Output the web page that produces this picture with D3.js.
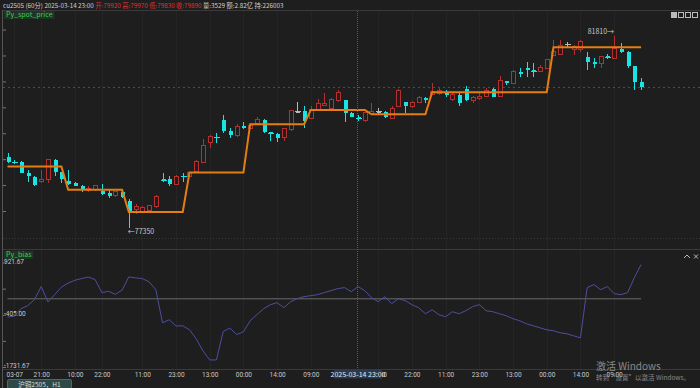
<!DOCTYPE html>
<html>
<head>
<meta charset="utf-8">
<script src="https://cdn.jsdelivr.net/npm/d3@7/dist/d3.min.js"></script>
<style>
  body { margin: 0; background: #1e1e1e; overflow: hidden; }
  svg { display: block; font-family: "Noto Sans CJK SC", "DejaVu Sans", sans-serif; }
</style>
</head>
<body>
<div id="chart"></div>
<script>
// 60 min bars of cu2505, [open, high, low, close]
const candles = [
  [79000, 79090, 78850, 78890], [78890, 78920, 78840, 78870], [78880, 78900, 78630, 78640], [78630, 78700, 78430, 78550],
  [78530, 78550, 78330, 78350], [78430, 78700, 78390, 78490], [78490, 78960, 78390, 78950], [78930, 78960, 78560, 78660],
  [78650, 78660, 78410, 78490], [78450, 78690, 78350, 78380], [78390, 78430, 78320, 78330], [78330, 78350, 78190, 78260],
  [78220, 78330, 78200, 78260], [78240, 78340, 78220, 78330], [78220, 78370, 78120, 78140], [78160, 78240, 78050, 78100],
  [78110, 78220, 78080, 78200], [78180, 78240, 78050, 78070], [77990, 78020, 77350, 77750], [77780, 77920, 77680, 77850],
  [77750, 77870, 77730, 77830], [77760, 77900, 77740, 77880], [77850, 78110, 77830, 78080], [78480, 78630, 78420, 78460],
  [78490, 78550, 78320, 78380], [78370, 78580, 78350, 78550], [78560, 78630, 78420, 78540], [78560, 78650, 78540, 78630],
  [78660, 78930, 78630, 78890], [78870, 79410, 78860, 79260], [79330, 79510, 79200, 79470], [79470, 79550, 79320, 79450],
  [79860, 79970, 79560, 79600], [79600, 79670, 79450, 79510], [79500, 79760, 79460, 79700], [79710, 79820, 79640, 79670],
  [79670, 79760, 79640, 79720], [79770, 79920, 79740, 79860], [79860, 79880, 79550, 79590], [79570, 79570, 79360, 79550],
  [79530, 79550, 79340, 79450], [79460, 79680, 79360, 79650], [79630, 80080, 79610, 80070], [80050, 80280, 80040, 80050],
  [80070, 80170, 79670, 79840], [79900, 80180, 79870, 80110], [80110, 80340, 80090, 80230], [80200, 80480, 80170, 80240],
  [80130, 80360, 80070, 80320], [80300, 80540, 80280, 80500], [80320, 80330, 79820, 80030], [80030, 80050, 79920, 79930],
  [79920, 79970, 79830, 79890], [79840, 80050, 79820, 80030], [80010, 80240, 80000, 80050], [80050, 80130, 79970, 80050],
  [80050, 80070, 79910, 79920], [79900, 80180, 79870, 80130], [80170, 80570, 80150, 80540], [80270, 80280, 80010, 80170],
  [80170, 80300, 80130, 80270], [80270, 80420, 80250, 80380], [80370, 80380, 80260, 80320], [80450, 80710, 80440, 80510],
  [80460, 80590, 80440, 80540], [80510, 80540, 80380, 80440], [80340, 80480, 80300, 80440], [80440, 80480, 80170, 80240],
  [80570, 80640, 80300, 80320], [80300, 80410, 80240, 80380], [80360, 80480, 80320, 80410], [80400, 80600, 80380, 80550],
  [80570, 80590, 80380, 80400], [80400, 80880, 80380, 80760], [80760, 80770, 80670, 80710], [80710, 81020, 80690, 80980],
  [80970, 81070, 80860, 80920], [81070, 81190, 80860, 81010], [81010, 81180, 80850, 80990], [80990, 81130, 80980, 81070],
  [81050, 81270, 81030, 81250], [81360, 81710, 81350, 81440], [81380, 81710, 81360, 81590], [81610, 81670, 81550, 81610],
  [81480, 81590, 81360, 81550], [81480, 81710, 81430, 81670], [81310, 81420, 81010, 81190], [81190, 81280, 81060, 81150],
  [81170, 81340, 81050, 81320], [81330, 81380, 81260, 81310], [81290, 81810, 81270, 81500], [81500, 81630, 81400, 81440],
  [81440, 81450, 81050, 81110], [81110, 81110, 80550, 80740], [80740, 80840, 80550, 80610]
];

// Py_spot_price: one level per trading day, starting at bar index
const spotDayStart = [0, 9, 18, 27, 36, 45, 54, 63, 81];
const spotLevel = [78780, 78240, 77730, 78640, 79760, 80090, 79990, 80500, 81540];

// Py_bias, one value per bar
const bias = [
  -463, -443, -251, -175, -22, 310, -80, 106, 297, 399, 470, 514, 552, 488, 157, 190,
  113, 220, 557, 531, 514, 430, 233, -608, -532, -692, -685, -787, -1016, -1322, -1552, -1552,
  -830, -744, -907, -838, -557, -404, -251, -149, -98, -226, -73, 4, 55, 80, 106, 157,
  208, 259, 284, 182, 310, 208, 29, -73, 55, -124, 4, -48, -149, -226, -379, -277,
  -404, -455, -328, -379, -302, -200, -149, -302, -328, -379, -430, -506, -557, -634, -685, -736,
  -787, -812, -863, -889, -940, -991, 284, 361, 233, 310, 131, 106, 157, 540, 870
];

const xTickIndex = [1, 5, 10, 14, 20, 25, 30, 35, 40, 45, 55, 60, 65, 70, 75, 80, 85, 90];
const xTickLabel = ['03-07', '21:00', '10:00', '22:00', '11:00', '23:00', '13:00', '00:00', '14:00',
  '09:00', '10:30', '22:00', '11:00', '23:00', '13:00', '00:00', '14:00', '09:00'];
const priceTicks = [77750, 78350, 78950, 79550, 80150, 80750, 81350, 81950];
const biasTicks = [921.67, 258.33, -405.00, -1068.33, -1731.67];
const biasTickLabel = ['921.67', '', '-405.00', '', '-1731.67'];

const hoverIndex = 52;
const hoverLabel = '2025-03-14  23:00';
const headLeft = 'cu2505 (60分) 2025-03-14 23:00';
const headOhlc = '开:79920 高:79970 低:79830 收:79890';
const headRight = '量:3529 额:2.82亿 持:226003';
const lowMark = 77350, highMark = 81810;

const W = 700, H = 388;
const cyan = '#19e3e3', red = '#b3302f', bg = '#1e1e1e';

const svg = d3.select('#chart').append('svg')
  .attr('width', W).attr('height', H);
svg.append('rect').attr('width', W).attr('height', H).attr('fill', bg);

const x = d3.scaleLinear().domain([0, candles.length - 1]).range([7.5, 641.1]);
const y = d3.scaleLinear().domain([lowMark, highMark]).range([228.3, 35.6]);
const yb = d3.scaleLinear().domain([-1731.67, 921.67]).range([367, 262.5]);

// faint vertical grid at the time ticks
svg.append('g').selectAll('line').data(xTickIndex).join('line')
  .attr('x1', d => Math.round(x(d)) + 0.5).attr('x2', d => Math.round(x(d)) + 0.5)
  .attr('y1', 11).attr('y2', 370)
  .attr('stroke', '#252525');

// frame lines
const frame = svg.append('g').attr('stroke', '#3a3a3a').attr('shape-rendering', 'crispEdges');
frame.append('line').attr('x1', 3).attr('x2', W).attr('y1', 10.5).attr('y2', 10.5);
frame.append('line').attr('x1', 3).attr('x2', W).attr('y1', 238.5).attr('y2', 238.5).attr('stroke-dasharray', '1,2');
frame.append('line').attr('x1', 3).attr('x2', W).attr('y1', 249.5).attr('y2', 249.5);
frame.append('line').attr('x1', 3).attr('x2', W).attr('y1', 369.5).attr('y2', 369.5);
frame.append('line').attr('x1', 2.5).attr('x2', 2.5).attr('y1', 10).attr('y2', 388).attr('stroke', '#555');

// left axes (ticks only in price pane)
const yAxis = d3.axisRight(y).tickValues(priceTicks).tickSize(3).tickFormat('');
svg.append('g').attr('transform', 'translate(3,0)').call(yAxis)
  .call(g => g.select('.domain').remove())
  .call(g => g.selectAll('line').attr('stroke', '#777'));

const ybAxis = d3.axisRight(yb).tickValues(biasTicks).tickSize(3)
  .tickFormat((d, i) => biasTickLabel[i]);
svg.append('g').attr('transform', 'translate(3,0)').call(ybAxis)
  .call(g => g.select('.domain').remove())
  .call(g => g.selectAll('line').attr('stroke', '#777'))
  .call(g => g.selectAll('text').attr('x', 1).attr('dy', '0.1em').attr('fill', '#c8c8c8')
    .style('font-size', '6.5px').style('font-family', 'Roboto, "DejaVu Sans", sans-serif'));

// last price line
const last = candles[candles.length - 1][3];
svg.append('line').attr('x1', 3).attr('x2', W)
  .attr('y1', y(last)).attr('y2', y(last))
  .attr('stroke', '#1f6b45').attr('stroke-dasharray', '2,3');

// candles
const cg = svg.append('g').attr('shape-rendering', 'crispEdges');
const bar = cg.selectAll('g').data(candles).join('g')
  .attr('transform', (d, i) => `translate(${Math.round(x(i)) + 0.5},0)`);
const colorOf = d => d[3] > d[0] ? red : (d[3] < d[0] ? cyan : '#bbbbbb');
bar.append('line')
  .attr('y1', d => y(d[1])).attr('y2', d => y(d[2]))
  .attr('stroke', colorOf);
bar.append('rect')
  .attr('x', -2).attr('width', 4)
  .attr('y', d => y(Math.max(d[0], d[3])))
  .attr('height', d => Math.max(1, Math.abs(y(d[0]) - y(d[3]))))
  .attr('fill', d => d[3] > d[0] ? bg : colorOf(d))
  .attr('stroke', d => d[3] > d[0] ? red : 'none');
bar.filter(d => Math.abs(y(d[0]) - y(d[3])) < 1.5).append('line')
  .attr('x1', -3).attr('x2', 3)
  .attr('y1', d => y(d[3])).attr('y2', d => y(d[3]))
  .attr('stroke', colorOf);

// Py_spot_price step line
const spot = candles.map((d, i) => spotLevel[d3.bisectRight(spotDayStart, i) - 1]);
svg.append('path').datum(spot)
  .attr('fill', 'none').attr('stroke', '#e47d12').attr('stroke-width', 2)
  .attr('d', d3.line().x((d, i) => x(i)).y(d => y(d)));

// high / low marks
const iLow = candles.findIndex(d => d[2] === lowMark);
const iHigh = candles.findIndex(d => d[1] === highMark);
svg.append('text').attr('x', x(iLow) - 1).attr('y', y(lowMark) + 6)
  .attr('fill', '#c8c8c8').style('font-size', '7px').text('←' + lowMark);
svg.append('text').attr('x', x(iHigh)).attr('y', y(highMark) - 2).attr('text-anchor', 'end')
  .attr('fill', '#c8c8c8').style('font-size', '7px').text(highMark + '→');

// bias pane
svg.append('line').attr('x1', x(0)).attr('x2', x(candles.length - 1))
  .attr('y1', yb(0)).attr('y2', yb(0)).attr('stroke', '#6a6a6a');
svg.append('path').datum(bias)
  .attr('fill', 'none').attr('stroke', '#4e4ea0').attr('stroke-width', 1)
  .attr('d', d3.line().x((d, i) => x(i)).y(d => yb(d)));

// crosshair
svg.append('line').attr('x1', Math.round(x(hoverIndex)) - 0.5).attr('x2', Math.round(x(hoverIndex)) - 0.5)
  .attr('y1', 11).attr('y2', 369)
  .attr('stroke', '#5a5a5a').attr('stroke-dasharray', '1,1');

// time axis
const xAxis = d3.axisBottom(x).tickValues(xTickIndex).tickSize(0)
  .tickFormat((d, i) => xTickLabel[i]);
svg.append('g').attr('transform', 'translate(0,369)').call(xAxis)
  .call(g => g.select('.domain').remove())
  .call(g => g.selectAll('text').attr('fill', '#c8c8c8')
    .style('font-size', '6.5px').style('font-family', 'Roboto, "DejaVu Sans", sans-serif'));

// hover time label
const hx = x(hoverIndex);
svg.append('rect').attr('x', hx - 24).attr('y', 369.5).attr('width', 48).attr('height', 9)
  .attr('fill', '#2b3850');
svg.append('text').attr('x', hx).attr('y', 376.5).attr('text-anchor', 'middle')
  .attr('fill', '#e8e8e8').style('font-size', '7px').text(hoverLabel);

// header
const head = svg.append('text').attr('x', 3).attr('y', 8).style('font-size', '6.3px');
head.append('tspan').attr('fill', '#d0d0d0').text(headLeft + ' ');
head.append('tspan').attr('fill', '#e03030').text(headOhlc + ' ');
head.append('tspan').attr('fill', '#d0d0d0').text(headRight);

// series labels
[['Py_spot_price', 11], ['Py_bias', 251]].forEach(([t, ty]) => {
  const lg = svg.append('g').attr('transform', `translate(4,${ty})`);
  const txt = lg.append('text').attr('x', 2).attr('y', 6).attr('fill', '#3ecf4a')
    .style('font-size', '7px').text(t);
  const w = txt.node().getComputedTextLength();
  lg.insert('rect', 'text').attr('width', w + 4).attr('height', 8).attr('fill', '#1f3326');
});

// toolbar icons
const icons = svg.append('g').attr('fill', 'none').attr('stroke', '#bbb');
[674, 681, 688, 695].forEach((ix, k) => {
  icons.append('rect').attr('x', ix - 2.5).attr('y', 12.5).attr('width', 5).attr('height', 5)
    .attr('fill', k === 0 ? '#bbb' : 'none');
});
icons.append('path').attr('d', 'M684,258 L687,255 L690,258');
icons.append('path').attr('d', 'M694,254.5 L698,258.5 M698,254.5 L694,258.5');

// bottom tab
svg.append('rect').attr('x', 7.5).attr('y', 379.5).attr('width', 64).attr('height', 9)
  .attr('fill', '#2e4a48').attr('stroke', '#4a6a66').attr('rx', 1.5);
svg.append('text').attr('x', 39.5).attr('y', 386.5).attr('text-anchor', 'middle')
  .attr('fill', '#dcdcdc').style('font-size', '6.5px').text('沪铜2505，H1');

// system watermark
svg.append('text').attr('x', 596).attr('y', 370).attr('fill', '#8a8a8a')
  .style('font-size', '10px').text('激活 Windows');
svg.append('text').attr('x', 596).attr('y', 380).attr('fill', '#8a8a8a')
  .style('font-size', '6.5px').text('转到“设置”以激活 Windows。');
</script>
</body>
</html>
